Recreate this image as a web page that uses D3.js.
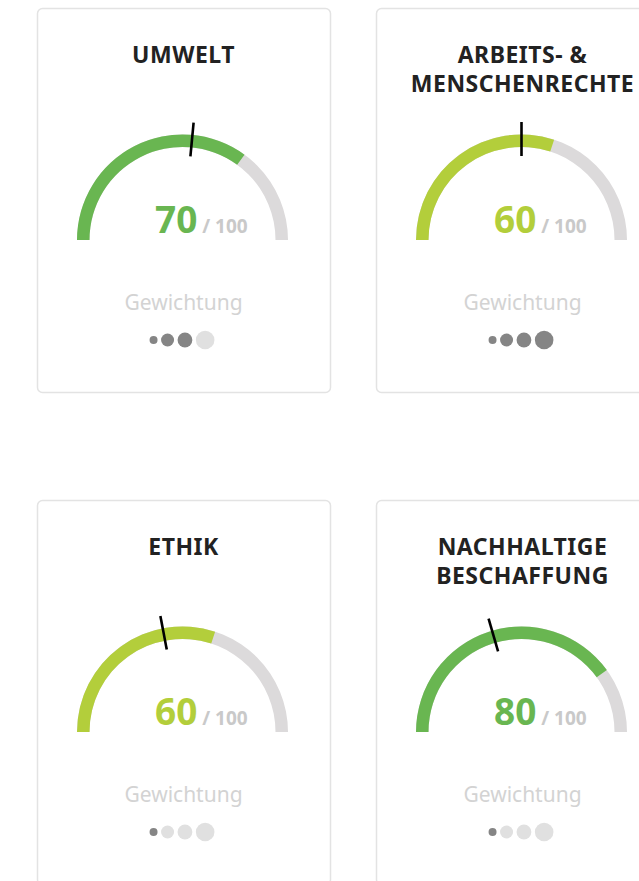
<!DOCTYPE html>
<html>
<head>
<meta charset="utf-8">
<script src="https://cdn.jsdelivr.net/npm/d3@7"></script>
<style>
  body { margin: 0; background: #fff; }
  svg { display: block; font-family: "Noto Sans", "Open Sans", sans-serif; }
</style>
</head>
<body>
<div id="chart"></div>
<script>
// card data
const titles = [["UMWELT"], ["ARBEITS- &", "MENSCHENRECHTE"], ["ETHIK"], ["NACHHALTIGE", "BESCHAFFUNG"]];
const scores = [70, 60, 60, 80];
const averages = [53, 50, 44, 41];
const weights = [3, 4, 1, 1];
const maxScore = 100;
const weightSteps = [1, 2, 3, 4];
const weightLabel = "Gewichtung";

const width = 639, height = 881;
const cardW = 293, cardH = 384;

const svg = d3.select("#chart").append("svg")
    .attr("width", width)
    .attr("height", height);

// grid of cards, 2 columns
const colX = d3.scaleLinear().domain([0, 1]).range([37, 376]);
const rowY = d3.scaleLinear().domain([0, 1]).range([8, 500]);

const angle = d3.scaleLinear().domain([0, maxScore]).range([-Math.PI / 2, Math.PI / 2]);
const arc = d3.arc().innerRadius(93).outerRadius(105.5);
const dotR = d3.scaleOrdinal().domain(weightSteps).range([4, 6.5, 7.4, 9.3]);
const scoreColor = s => s >= 70 ? "#69b651" : "#b3ce3b";

const cards = titles.map((t, i) => ({
  title: t, score: scores[i], avg: averages[i], weight: weights[i],
  x: colX(i % 2), y: rowY(Math.floor(i / 2))
}));

const g = svg.selectAll("g.card")
  .data(cards)
  .enter().append("g")
    .attr("class", "card")
    .attr("transform", d => `translate(${d.x},${d.y})`);

g.append("rect")
    .attr("x", 0.5).attr("y", 0.5)
    .attr("width", cardW).attr("height", cardH)
    .attr("rx", 5)
    .attr("fill", "#fff")
    .attr("stroke", "#e3e3e3")
    .attr("stroke-width", 1.5);

// title
g.append("text")
    .attr("text-anchor", "middle")
    .attr("font-size", 23)
    .attr("font-weight", 700)
    .attr("letter-spacing", 0.5)
    .attr("fill", "#222")
    .selectAll("tspan")
    .data(d => d.title)
    .enter().append("tspan")
      .attr("x", 146.5)
      .attr("y", (d, i) => 54.5 + i * 29)
      .text(d => d);

// gauge
const gauge = g.append("g").attr("transform", "translate(145.5,232)");

gauge.append("path")
    .attr("fill", "#dcdadb")
    .attr("d", arc({ startAngle: angle(0), endAngle: angle(maxScore) }));

gauge.append("path")
    .attr("fill", d => scoreColor(d.score))
    .attr("d", d => arc({ startAngle: angle(0), endAngle: angle(d.score) }));

gauge.append("line")
    .attr("stroke", "#000")
    .attr("stroke-width", 2.6)
    .each((d, i, e) => {
      let a = angle(d.avg);
      d3.select(e[i])
        .attr("x1", 84 * Math.sin(a)).attr("y1", -84 * Math.cos(a))
        .attr("x2", 118 * Math.sin(a)).attr("y2", -118 * Math.cos(a));
    });

const label = gauge.append("text")
    .attr("x", -27.5)
    .attr("y", -7)
    .attr("font-weight", 700);
label.append("tspan")
    .attr("font-size", 37)
    .attr("fill", d => scoreColor(d.score))
    .text(d => d.score);
label.append("tspan")
    .attr("font-size", 19)
    .attr("fill", "#c9c9c9")
    .text(" / " + maxScore);

// weighting
g.append("text")
    .attr("x", 146.5)
    .attr("y", 302)
    .attr("text-anchor", "middle")
    .attr("font-size", 21)
    .attr("fill", "#d3d3d3")
    .text(weightLabel);

const gap = 3.5;
const total = d3.sum(weightSteps, s => 2 * dotR(s)) + gap * (weightSteps.length - 1);
g.append("g")
    .attr("transform", `translate(${145 - total / 2},332)`)
    .selectAll("circle")
    .data(d => weightSteps.map(s => ({ step: s, on: s <= d.weight })))
    .enter().append("circle")
      .attr("cx", (d, i) => {
        let x = 0;
        for (let k = 0; k < i; k++) x += 2 * dotR(weightSteps[k]) + gap;
        return x + dotR(d.step);
      })
      .attr("cy", 0)
      .attr("r", d => dotR(d.step))
      .attr("fill", d => d.on ? "#858585" : "#e0e0e0");
</script>
</body>
</html>
